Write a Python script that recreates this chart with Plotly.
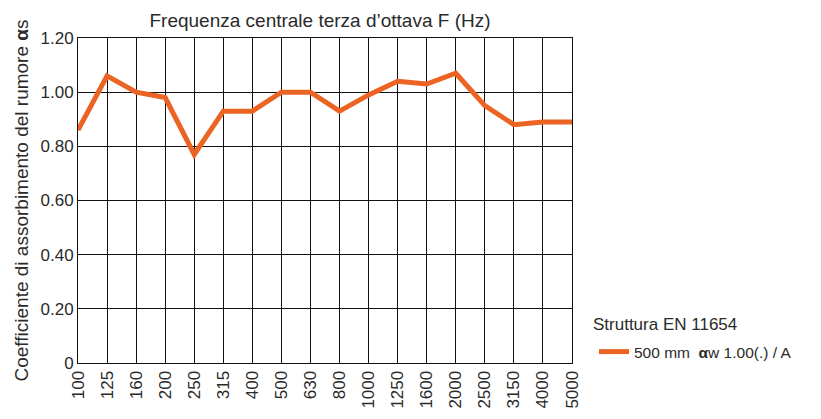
import plotly.graph_objects as go

freqs = ["100", "125", "160", "200", "250", "315", "400", "500", "630", "800",
         "1000", "1250", "1600", "2000", "2500", "3150", "4000", "5000"]
alpha_s = [0.86, 1.06, 1.00, 0.98, 0.77, 0.93, 0.93, 1.00, 1.00, 0.93,
           0.99, 1.04, 1.03, 1.07, 0.95, 0.88, 0.89, 0.89]
y_ticks = [0, 0.2, 0.4, 0.6, 0.8, 1.0, 1.2]
y_tick_text = ["0", "0.20", "0.40", "0.60", "0.80", "1.00", "1.20"]

series_name = "500 mm  <b>α</b>w 1.00(.) / A"
legend_title = "Struttura EN 11654"
title_text = "Frequenza centrale terza d’ottava F (Hz)"
y_title = "Coefficiente di assorbimento del rumore <b>α</b>s"

FONT = "Liberation Sans"
TXT = "#2a2a2a"

fig = go.Figure()
fig.add_trace(go.Scatter(
    x=list(range(len(freqs))), y=alpha_s, mode="lines", name=series_name,
    line=dict(color="#ec6424", width=5), showlegend=True,
))

fig.add_annotation(
    text=legend_title, xref="paper", yref="paper", x=1.0385, y=0.12,
    xanchor="left", yanchor="middle", showarrow=False,
    font=dict(family=FONT, size=17, color=TXT),
)

fig.update_layout(
    width=821, height=419,
    margin=dict(l=70, r=257, t=30, b=64, autoexpand=False),
    paper_bgcolor="white", plot_bgcolor="white",
    font=dict(family=FONT, size=17, color=TXT),
    title=dict(text=title_text, x=312 / 821, xanchor="center",
               y=1 - 12 / 419, yanchor="middle",
               font=dict(family=FONT, size=19, color=TXT)),
    xaxis=dict(
        range=[0, len(freqs) - 1],
        tickmode="array", tickvals=list(range(len(freqs))), ticktext=freqs,
        tickangle=-90, showgrid=True, gridcolor="#111", gridwidth=1,
        showline=True, linecolor="#111", linewidth=1, mirror=True,
        ticks="", zeroline=False, tickfont=dict(size=17, color=TXT),
    ),
    yaxis=dict(
        range=[0, 1.2],
        tickmode="array", tickvals=y_ticks, ticktext=y_tick_text,
        showgrid=True, gridcolor="#111", gridwidth=1,
        showline=True, linecolor="#111", linewidth=1, mirror=True,
        ticks="", zeroline=False, tickfont=dict(size=17, color=TXT),
        title=dict(text=y_title, font=dict(size=19, color=TXT), standoff=6),
    ),
    legend=dict(
        x=1.0445, xanchor="left", y=0.0338, yanchor="middle",
        font=dict(size=15.5, color=TXT), bgcolor="rgba(0,0,0,0)",
        itemwidth=30,
    ),
)

fig.write_html("out.html")
